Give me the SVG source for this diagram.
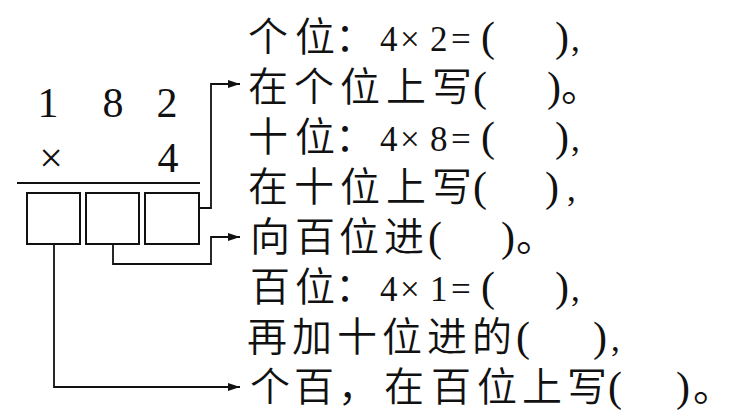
<svg xmlns="http://www.w3.org/2000/svg" width="734" height="416" viewBox="0 0 734 416">
<style>
  .num { font-family: "Liberation Serif", "Times New Roman", serif; font-size: 42px; fill: #111; }
  .cjk { font-family: "Noto Sans CJK SC", sans-serif; font-size: 40px; font-weight: 350; fill: #111; }
  .lat { font-family: "Liberation Serif", "Times New Roman", serif; font-size: 35px; font-weight: 400; }
  .par { font-family: "Liberation Serif", "Times New Roman", serif; font-size: 42px; font-weight: 400; }
  .box { fill: #fff; stroke: #111; stroke-width: 2; }
  .rule { stroke: #111; stroke-width: 2; }
  .conn { fill: none; stroke: #111; stroke-width: 1.8; marker-end: url(#arrow); }
</style>
<defs>
  <marker id="arrow" viewBox="0 0 12 8" refX="12" refY="4" markerWidth="12" markerHeight="8" markerUnits="userSpaceOnUse" orient="auto">
    <path d="M0,0 L12,4 L0,8 z" fill="#111"/>
  </marker>
</defs>
<rect width="734" height="416" fill="#fff"/>

<g id="multiplication">
  <text class="num" x="48" y="117" text-anchor="middle">1</text>
  <text class="num" x="113" y="117" text-anchor="middle">8</text>
  <text class="num" x="167" y="117" text-anchor="middle">2</text>
  <text class="num" x="51" y="172" text-anchor="middle">×</text>
  <text class="num" x="168" y="172" text-anchor="middle">4</text>
  <line class="rule" x1="17" y1="183" x2="200" y2="183"/>
</g>

<g id="box-hundreds"><rect class="box" x="27" y="193" width="53" height="51"/></g>
<g id="box-tens"><rect class="box" x="86" y="193" width="53" height="51"/></g>
<g id="box-ones"><rect class="box" x="145" y="193" width="54" height="51"/></g>

<g id="connectors">
  <path class="conn" d="M199,208 H211 V84 H240"/>
  <path class="conn" d="M113,244 V264 H211 V237 H240"/>
  <path class="conn" d="M54,244 V387 H240"/>
</g>

<g id="ones-step">
  <text class="cjk" y="51"><tspan x="248 295 335">个位：</tspan><tspan class="lat" x="380 400 430 451">4×2=</tspan><tspan class="par" x="481">(</tspan><tspan class="par" x="555">)</tspan><tspan class="lat" x="571">,</tspan></text>
  <text class="cjk" y="101"><tspan x="248 294 340 386 432">在个位上写</tspan><tspan class="par" x="473">(</tspan><tspan class="par" x="547">)</tspan><tspan x="561">。</tspan></text>
</g>

<g id="tens-step">
  <text class="cjk" y="151"><tspan x="248 295 335">十位：</tspan><tspan class="lat" x="380 400 430 451">4×8=</tspan><tspan class="par" x="481">(</tspan><tspan class="par" x="555">)</tspan><tspan class="lat" x="571">,</tspan></text>
  <text class="cjk" y="201"><tspan x="248 294 340 386 432">在十位上写</tspan><tspan class="par" x="473">(</tspan><tspan class="par" x="545">)</tspan><tspan class="lat" x="567">,</tspan></text>
  <text class="cjk" y="251"><tspan x="250 295 339 384">向百位进</tspan><tspan class="par" x="428">(</tspan><tspan class="par" x="501">)</tspan><tspan x="516">。</tspan></text>
</g>

<g id="hundreds-step">
  <text class="cjk" y="301"><tspan x="250 295 335">百位：</tspan><tspan class="lat" x="380 400 430 451">4×1=</tspan><tspan class="par" x="481">(</tspan><tspan class="par" x="555">)</tspan><tspan class="lat" x="571">,</tspan></text>
  <text class="cjk" y="351"><tspan x="247 292 337 382 427 472">再加十位进的</tspan><tspan class="par" x="516">(</tspan><tspan class="par" x="593">)</tspan><tspan class="lat" x="611">,</tspan></text>
  <text class="cjk" y="401"><tspan x="250 294 338 384 431 477 522 567">个百，在百位上写</tspan><tspan class="par" x="608">(</tspan><tspan class="par" x="676">)</tspan><tspan x="693">。</tspan></text>
</g>
</svg>
